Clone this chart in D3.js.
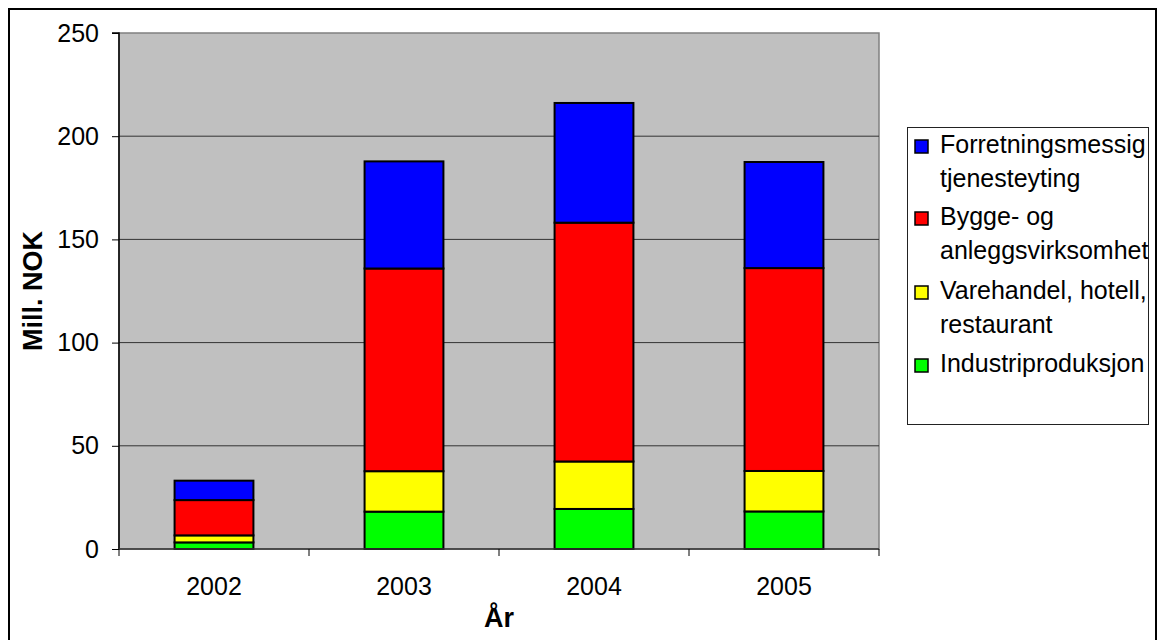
<!DOCTYPE html>
<html>
<head>
<meta charset="utf-8">
<script src="https://cdn.jsdelivr.net/npm/d3@7"></script>
<style>
  body { margin: 0; background: #fff; }
  text { font-family: "Liberation Sans", Arial, sans-serif; fill: #000; }
</style>
</head>
<body>
<div id="wrapper"></div>
<script>
// data
const years = ["2002", "2003", "2004", "2005"];
const seriesNames = ["Industriproduksjon", "Varehandel, hotell, restaurant", "Bygge- og anleggsvirksomhet", "Forretningsmessig tjenesteyting"];
const industri = [3.2, 18.1, 19.4, 18.2];
const varehandel = [3.4, 19.6, 23.0, 19.6];
const bygge = [17.1, 98.2, 115.7, 98.3];
const forretning = [9.4, 51.9, 58.0, 51.4];
const yTicks = [0, 50, 100, 150, 200, 250];
const colors = ["#00ff00", "#ffff00", "#ff0000", "#0000ff"];
// legend lines (top entry first, like the picture)
const legendLines = [
    ["Forretningsmessig", "tjenesteyting"],
    ["Bygge- og", "anleggsvirksomhet"],
    ["Varehandel, hotell,", "restaurant"],
    ["Industriproduksjon"]
];

const width = 1158;
const height = 640;
const fontSize = 25;
const titleSize = 27;

let dimensions = {
    width: width,
    height: height,
    plot: { left: 119, right: 879, top: 33, bottom: 549 }
};

const wrapper = d3.select('#wrapper')
    .append('svg')
    .attr('width', dimensions.width)
    .attr('height', dimensions.height);

// outer frame
wrapper.append('rect')
    .attr('x', 9).attr('y', 9)
    .attr('width', 1147).attr('height', 650)
    .attr('fill', '#fff')
    .attr('stroke', '#000')
    .attr('stroke-width', 2);

const p = dimensions.plot;

const xScale = d3.scaleBand()
    .domain(years)
    .range([p.left, p.right])
    .paddingInner(0.585)
    .paddingOuter(0.2925);

const yScale = d3.scaleLinear()
    .domain([0, 250])
    .range([p.bottom, p.top]);

// plot background
wrapper.append('rect')
    .attr('x', p.left).attr('y', p.top)
    .attr('width', p.right - p.left).attr('height', p.bottom - p.top)
    .attr('fill', '#c0c0c0')
    .attr('stroke', '#808080')
    .attr('stroke-width', 1.5);

// gridlines
wrapper.append('g')
    .selectAll('line')
    .data(yTicks.filter(t => t > 0 && t < 250))
    .enter()
    .append('line')
    .attr('x1', p.left).attr('x2', p.right)
    .attr('y1', d => yScale(d)).attr('y2', d => yScale(d))
    .attr('stroke', '#333')
    .attr('stroke-width', 1);

// stacked bars
const table = years.map((y, i) => ({
    year: y, s0: industri[i], s1: varehandel[i], s2: bygge[i], s3: forretning[i]
}));
const stacked = d3.stack().keys(["s0", "s1", "s2", "s3"])(table);

wrapper.append('g')
    .selectAll('g')
    .data(stacked)
    .enter()
    .append('g')
    .attr('fill', (d, i) => colors[i])
    .selectAll('rect')
    .data(d => d)
    .enter()
    .append('rect')
    .attr('x', d => xScale(d.data.year))
    .attr('y', d => yScale(d[1]))
    .attr('width', xScale.bandwidth())
    .attr('height', d => yScale(d[0]) - yScale(d[1]))
    .attr('stroke', '#000')
    .attr('stroke-width', 2);

// y axis
const yAxis = d3.axisLeft(yScale)
    .tickValues(yTicks)
    .tickSize(7)
    .tickPadding(13)
    .tickFormat(d3.format('d'));
const yAxisG = wrapper.append('g')
    .attr('transform', `translate(${p.left},0)`)
    .call(yAxis);
yAxisG.select('.domain').attr('stroke', '#000').attr('stroke-width', 1.5).attr('d', `M-7,${p.top}H0V${p.bottom}`);
yAxisG.selectAll('line').attr('stroke', '#000');
yAxisG.selectAll('text')
    .style('font-size', fontSize + 'px')
    .style('font-family', '"Liberation Sans", Arial, sans-serif');

// x axis: ticks between categories
const xAxisG = wrapper.append('g');
xAxisG.append('line')
    .attr('x1', p.left).attr('x2', p.right)
    .attr('y1', p.bottom).attr('y2', p.bottom)
    .attr('stroke', '#333').attr('stroke-width', 1.5);
const step = xScale.step();
xAxisG.selectAll('.xtick')
    .data(d3.range(years.length + 1))
    .enter()
    .append('line')
    .attr('x1', i => p.left + i * step).attr('x2', i => p.left + i * step)
    .attr('y1', p.bottom).attr('y2', p.bottom + 7)
    .attr('stroke', '#000');
xAxisG.selectAll('.xlabel')
    .data(years)
    .enter()
    .append('text')
    .attr('x', d => xScale(d) + xScale.bandwidth() / 2)
    .attr('y', 595)
    .attr('text-anchor', 'middle')
    .style('font-size', fontSize + 'px')
    .text(d => d);

// axis titles
wrapper.append('text')
    .attr('x', (p.left + p.right) / 2)
    .attr('y', 627)
    .attr('text-anchor', 'middle')
    .style('font-size', titleSize + 'px')
    .style('font-weight', 'bold')
    .text('År');

wrapper.append('text')
    .attr('transform', `translate(42,${(p.top + p.bottom) / 2}) rotate(-90)`)
    .attr('text-anchor', 'middle')
    .style('font-size', titleSize + 'px')
    .style('font-weight', 'bold')
    .text('Mill. NOK');

// legend
const legend = wrapper.append('g');
legend.append('rect')
    .attr('x', 907.5).attr('y', 127.5)
    .attr('width', 241).attr('height', 297)
    .attr('fill', '#fff')
    .attr('stroke', '#222')
    .attr('stroke-width', 1);

const legendBase = [153, 225, 299, 372];
const legendColors = colors.slice().reverse();
const entries = legend.selectAll('.entry')
    .data(legendLines)
    .enter()
    .append('g');
entries.append('rect')
    .attr('x', 915)
    .attr('y', (d, i) => legendBase[i] - 13)
    .attr('width', 13).attr('height', 13)
    .attr('fill', (d, i) => legendColors[i])
    .attr('stroke', '#000')
    .attr('stroke-width', 1.5);
entries.each(function (lines, i) {
    d3.select(this).selectAll('text')
        .data(lines)
        .enter()
        .append('text')
        .attr('x', 940)
        .attr('y', (l, j) => legendBase[i] + j * 34)
        .style('font-size', fontSize + 'px')
        .text(l => l);
});
</script>
</body>
</html>
